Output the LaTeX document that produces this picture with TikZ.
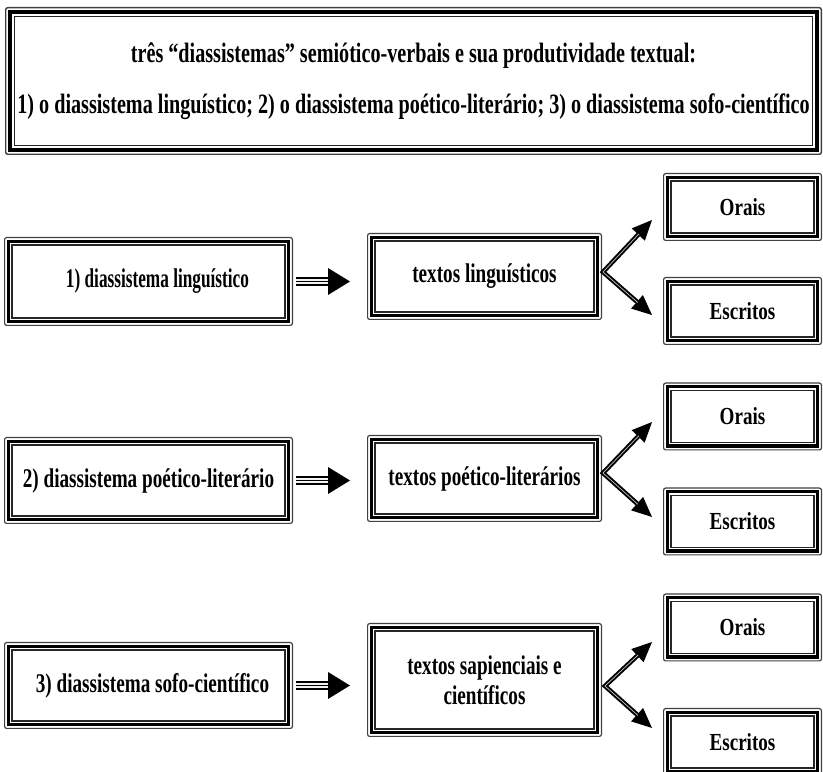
\documentclass[tikz,border=0pt]{standalone}
\usepackage{fontspec}
\setmainfont{Liberation Serif}[FakeStretch=0.71]
\newfontfamily\titlefont{Liberation Serif}[FakeStretch=0.72]
\newfontfamily\leaffont{Liberation Serif}[FakeStretch=0.78]
\usetikzlibrary{arrows.meta,calc}

% thin / thick / thin frame around a named node
\newcommand\triframe[2][1]{%
  \draw[line width=#1*1.2pt, black!75, rounded corners=2pt]
    ([shift={(#1*0.6,-#1*0.6)}]#2.north west) rectangle ([shift={(-#1*0.6,#1*0.6)}]#2.south east);
  \draw[line width=#1*3.4pt, black]
    ([shift={(#1*4.3,-#1*4.3)}]#2.north west) rectangle ([shift={(-#1*4.3,#1*4.3)}]#2.south east);
  \draw[line width=#1*1.2pt, black!85]
    ([shift={(#1*8,-#1*8)}]#2.north west) rectangle ([shift={(-#1*8,#1*8)}]#2.south east);
}

% triple-striped arrow from one box to the next
\newcommand\linkarrow[2]{%
  \coordinate (#1s) at ($(#1.east)+(3,0)$);
  \coordinate (#1t) at ($(#2.west |- #1.east)+(-17,0)$);
  \draw[shaft] (#1s) -- (#1t);
  \foreach \dy in {-1.6,1.6}
    \draw[white!90!gray, line width=1.3pt] ($(#1s)+(0,\dy)$) -- ($(#1t)+(-22,\dy)$);
}

% forked arrow with a light inner stripe: #1 start, #2 upper tip, #3 lower tip
\newcommand\forkarrow[3]{%
  \draw[fork] (#2) -- (#1) -- (#3);
  \draw[gray!45, line width=0.7pt, shorten <=19pt, shorten >=19pt] (#2) -- (#1) -- (#3);
}

\tikzset{
  panel/.style={inner sep=0pt, outer sep=0pt, align=center,
    font=\bfseries\fontsize{27}{30}\selectfont},
  headline/.style={panel, font=\titlefont\bfseries\fontsize{28}{51}\selectfont},
  leaf/.style={panel, minimum width=159pt, minimum height=68pt,
    font=\leaffont\bfseries\fontsize{24.5}{28}\selectfont},
  sourcebox/.style={panel, minimum width=289pt},
  textbox/.style={panel, minimum width=235pt},
  shaft/.style={line width=8.6pt, -{Triangle[length=22pt,width=27pt,line width=0pt]}},
  fork/.style={line width=4.6pt, line join=miter,
    {Triangle[length=20pt,width=18pt,line width=0pt]}-{Triangle[length=20pt,width=18pt,line width=0pt]}},
}

\begin{document}
\begin{tikzpicture}[x=1pt,y=1pt]
\useasboundingbox (0,0) rectangle (823,772);

% heading
\node[headline, minimum width=817pt, minimum height=148pt] (head) at (413.5,691)
  {três “diassistemas” semiótico-verbais e sua produtividade textual:\\
   1) o diassistema linguístico; 2) o diassistema poético-literário; 3) o diassistema sofo-científico};
\triframe[1.2]{head}

% row 1
\node[sourcebox, minimum height=89pt] (L1) at (148.5,490.5)
  {\hspace*{18pt}\scalebox{0.9}[1]{1) diassistema linguístico}};
\node[textbox, minimum height=87pt] (M1) at (484.5,495.5) {textos linguísticos};
\node[leaf] (O1) at (742.5,565) {Orais};
\node[leaf] (E1) at (742.5,461) {Escritos};

% row 2
\node[sourcebox, minimum height=87pt] (L2) at (148.5,291.5) {2) diassistema poético-literário};
\node[textbox, minimum height=87pt] (M2) at (484.5,293.5) {textos poético-literários};
\node[leaf] (O2) at (742.5,355.5) {Orais};
\node[leaf] (E2) at (742.5,250.5) {Escritos};

% row 3
\node[sourcebox, minimum height=87pt] (L3) at (148.5,86.5) {\hspace*{8pt}3) diassistema sofo-científico};
\node[textbox, minimum height=114pt] (M3) at (484.5,92) {textos sapienciais e\\científicos};
\node[leaf] (O3) at (742.5,144.5) {Orais};
\node[leaf] (E3) at (742.5,30) {Escritos};

\foreach \n in {L1,M1,O1,E1,L2,M2,O2,E2,L3,M3,O3,E3} {\triframe{\n}}

% connectors
\linkarrow{L1}{M1}
\linkarrow{L2}{M2}
\linkarrow{L3}{M3}

\coordinate (F1) at ($(M1.east)+(1,4.5)$);
\coordinate (F1u) at ($(O1.west)+(-11,-13)$);
\coordinate (F1d) at ($(E1.west)+(-11,-4)$);
\forkarrow{F1}{F1u}{F1d}

\coordinate (F2) at ($(M2.east)+(1,5.5)$);
\coordinate (F2u) at ($(O2.west)+(-11,-5.5)$);
\coordinate (F2d) at ($(E2.west)+(-11,4.5)$);
\forkarrow{F2}{F2u}{F2d}

\coordinate (F3) at ($(M3.east)+(3,-6)$);
\coordinate (F3u) at ($(O3.west)+(-11,-14.5)$);
\coordinate (F3d) at ($(E3.west)+(-11,14)$);
\forkarrow{F3}{F3u}{F3d}
\end{tikzpicture}
\end{document}
